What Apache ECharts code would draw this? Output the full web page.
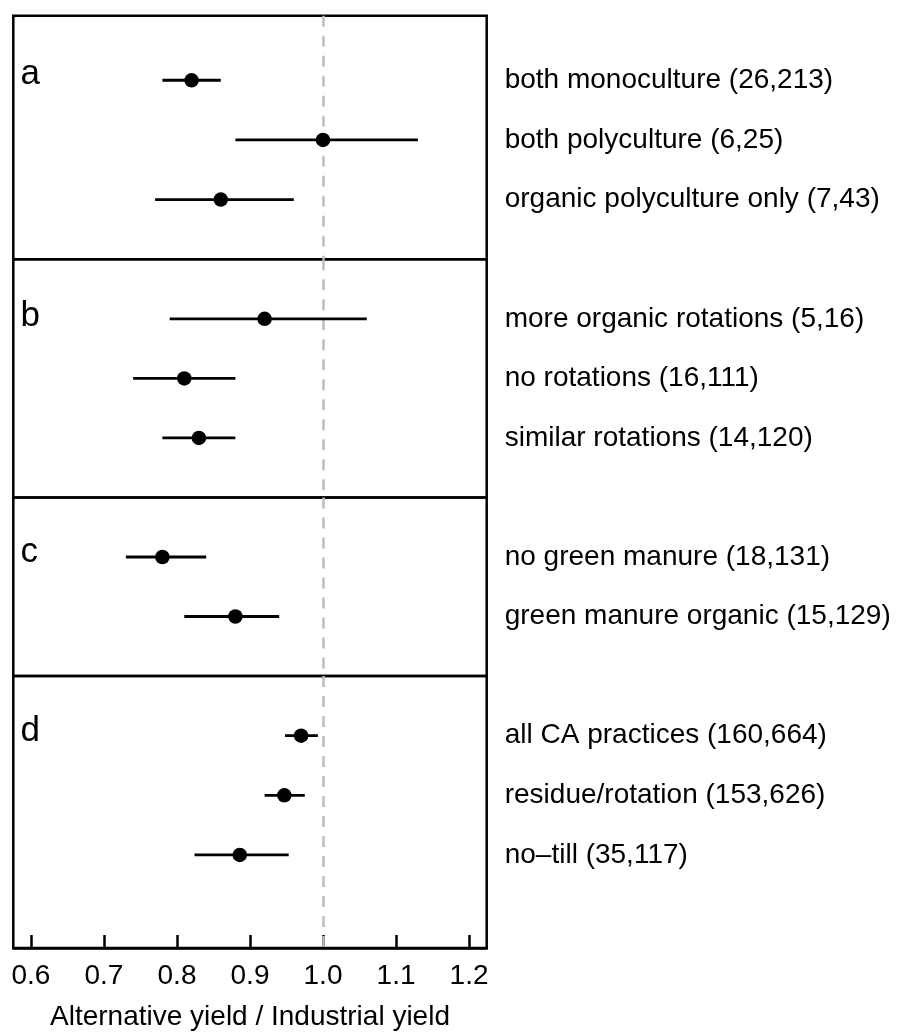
<!DOCTYPE html>
<html>
<head>
<meta charset="utf-8">
<script src="https://cdn.jsdelivr.net/npm/echarts@6/dist/echarts.min.js"></script>
<style>
  html, body { margin: 0; padding: 0; background: #fff; }
  #chart { width: 897px; height: 1032px; }
</style>
</head>
<body>
<div id="chart"></div>
<script>
// ---- data ----
const panelLetters = ['a', 'b', 'c', 'd'];

const labelsA = ['both monoculture (26,213)', 'both polyculture (6,25)', 'organic polyculture only (7,43)'];
const estA = [0.82, 1.00, 0.86];
const lowA = [0.78, 0.88, 0.77];
const highA = [0.86, 1.13, 0.96];

const labelsB = ['more organic rotations (5,16)', 'no rotations (16,111)', 'similar rotations (14,120)'];
const estB = [0.92, 0.81, 0.83];
const lowB = [0.79, 0.74, 0.78];
const highB = [1.06, 0.88, 0.88];

const labelsC = ['no green manure (18,131)', 'green manure organic (15,129)'];
const estC = [0.78, 0.88];
const lowC = [0.73, 0.81];
const highC = [0.84, 0.94];

const labelsD = ['all CA practices (160,664)', 'residue/rotation (153,626)', 'no\u2013till (35,117)'];
const estD = [0.97, 0.947, 0.886];
const lowD = [0.948, 0.92, 0.824];
const highD = [0.993, 0.975, 0.953];

const xTicks = [0.6, 0.7, 0.8, 0.9, 1.0, 1.1, 1.2];
const refValue = 1.0;
const xTitle = 'Alternative yield / Industrial yield';

// ---- layout ----
const FONT = '"Liberation Sans", Arial, Helvetica, sans-serif';
const X_MIN = 0.5758, X_MAX = 1.2242;
const panels = [
  { labels: labelsA, est: estA, low: lowA, high: highA, top: 15.7, height: 243.6, yMin: -0.082, yMax: 4.0, letterTop: 57 },
  { labels: labelsB, est: estB, low: lowB, high: highB, top: 259.3, height: 238.2, yMin: 0, yMax: 4.0, letterTop: 299 },
  { labels: labelsC, est: estC, low: lowC, high: highC, top: 497.5, height: 178.5, yMin: 0, yMax: 3.0, letterTop: 535 },
  { labels: labelsD, est: estD, low: lowD, high: highD, top: 676, height: 272, yMin: 0, yMax: 4.56, letterTop: 714 }
];

const grid = [], xAxis = [], yAxis = [], series = [], title = [];

panels.forEach((p, i) => {
  const isLast = i === panels.length - 1;
  const rows = p.labels.map((_, k) => k + 1);
  grid.push({
    left: 13.3, width: 473.4, top: p.top, height: p.height,
    show: true, borderColor: '#000', borderWidth: 2.5, backgroundColor: 'transparent'
  });
  xAxis.push({
    gridIndex: i, type: 'value', min: X_MIN, max: X_MAX,
    show: isLast,
    splitLine: { show: false },
    axisLine: { show: isLast, onZero: false, lineStyle: { color: '#000', width: 2.5 } },
    axisTick: { show: isLast, inside: true, length: 13, customValues: xTicks, lineStyle: { color: '#000', width: 2.5 } },
    axisLabel: {
      show: isLast, customValues: xTicks, margin: 14,
      formatter: v => Number(v).toFixed(1),
      color: '#000', fontSize: 28, fontFamily: FONT
    },
    name: isLast ? xTitle : '',
    nameLocation: 'middle', nameGap: 55,
    nameTextStyle: { color: '#000', fontSize: 28, fontFamily: FONT }
  });
  yAxis.push({
    gridIndex: i, type: 'value', inverse: true, min: p.yMin, max: p.yMax,
    position: 'right',
    axisLine: { show: false }, axisTick: { show: false }, splitLine: { show: false },
    axisLabel: {
      customValues: rows, margin: 18,
      formatter: v => p.labels[Math.round(v) - 1] || '',
      color: '#000', fontSize: 28, fontFamily: FONT
    }
  });
  series.push({
    type: 'custom', xAxisIndex: i, yAxisIndex: i, z: 3,
    data: p.est.map((_, k) => [p.low[k], p.high[k], k + 1]),
    encode: { x: [0, 1], y: 2 },
    renderItem: (params, api) => {
      const a = api.coord([api.value(0), api.value(2)]);
      const b = api.coord([api.value(1), api.value(2)]);
      return { type: 'line', shape: { x1: a[0], y1: a[1], x2: b[0], y2: b[1] },
               style: { stroke: '#000', lineWidth: 2.8 } };
    },
    silent: true
  });
  series.push({
    type: 'scatter', xAxisIndex: i, yAxisIndex: i, z: 4,
    data: p.est.map((v, k) => [v, k + 1]),
    symbol: 'circle', symbolSize: 14.5,
    itemStyle: { color: '#000', opacity: 1 },
    silent: true,
    markLine: {
      silent: true, symbol: 'none', z: 2,
      label: { show: false },
      lineStyle: { color: '#bdbdbd', width: 2.5, type: [11, 9], opacity: 1 },
      data: [{ xAxis: refValue }]
    }
  });
  title.push({
    text: panelLetters[i], left: 20.5, top: p.letterTop, padding: 0,
    textStyle: { color: '#000', fontSize: 35, fontWeight: 'normal', fontFamily: FONT }
  });
});

const chart = echarts.init(document.getElementById('chart'), null, { renderer: 'canvas' });
chart.setOption({
  backgroundColor: '#fff',
  animation: false,
  title, grid, xAxis, yAxis, series
});
</script>
</body>
</html>
